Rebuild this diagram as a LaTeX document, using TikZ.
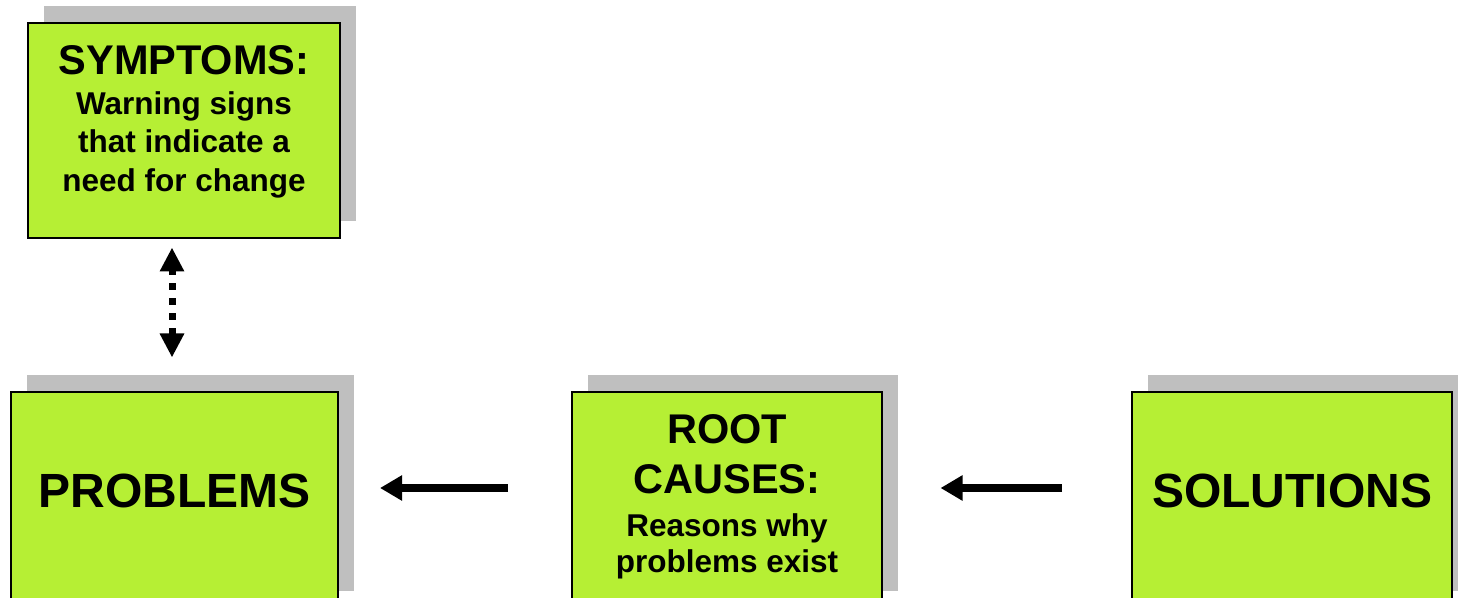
\documentclass[tikz,border=0pt]{standalone}
\usepackage{fontspec}
\setmainfont{Liberation Sans}
\usetikzlibrary{positioning, arrows.meta, shadows}
\definecolor{boxgreen}{RGB}{182,239,52}
\definecolor{shadowgray}{RGB}{191,191,191}
\newcommand{\boxtitle}[1]{{\fontsize{41.5}{42}\selectfont #1}}
\tikzset{
    x=1pt, y=1pt, % one unit is one point
    node distance=154pt, % gap between the two rows of boxes
    box/.style={draw=black, line width=2pt, fill=boxgreen, outer sep=0pt, minimum height=215pt,
        general shadow={fill=shadowgray, shadow xshift=16pt, shadow yshift=17pt}}, % green box with its grey shadow
    boxtext/.style={inner sep=0pt, align=center, font=\bfseries\fontsize{31.5}{38.5}\selectfont}, % text of a box
    bigtext/.style={inner sep=0pt, font=\bfseries\fontsize{48}{56}\selectfont}, % one big word
    flow/.style={line width=8pt, -{Triangle[length=22pt, width=24pt]}}, % thick arrow between boxes
    link/.style={line width=7pt, dash pattern=on 7pt off 8pt,
        {Triangle[length=24pt, width=23pt]}-{Triangle[length=24pt, width=23pt]}}, % dotted two way arrow
}
\begin{document}
\begin{tikzpicture}
        \useasboundingbox (0,0) rectangle (1458,597);
        \node[box, minimum width=327pt] (prob) at (174.5,97) {};
        \node[box, minimum width=310pt, right=234pt of prob] (root) {};
        \node[box, minimum width=320pt, right=250pt of root] (solu) {};
        \node[box, minimum width=312pt, above=of prob, xshift=9.5pt] (symp) {};
        \node[boxtext, anchor=north] (symptext) at ([yshift=-21.5pt]symp.north)
            {\boxtitle{SYMPTOMS:}\\[1.5pt]Warning signs\\that indicate a\\need for change};
        \node[bigtext, anchor=base] (probtext) at ([yshift=-7pt]prob.center) {PROBLEMS};
        \node[boxtext, anchor=north] (roottext) at ([yshift=-22pt]root.north)
            {\boxtitle{ROOT}\\[11.5pt]\boxtitle{CAUSES:}\\[4.5pt]Reasons why\\[-2.5pt]problems exist};
        \node[bigtext, anchor=base] (solutext) at ([yshift=-7pt]solu.center) {SOLUTIONS};
        \draw[flow, shorten <=64pt, shorten >=42pt] ([yshift=12pt]root.west) -- ([yshift=12pt]prob.east);
        \draw[flow, shorten <=70pt, shorten >=58.5pt] ([yshift=12pt]solu.west) -- ([yshift=12pt]root.east);
        \draw[link, shorten <=35pt, shorten >=9pt] ([xshift=-2.5pt]prob.north) -- ([xshift=-2.5pt]prob.north |- symp.south);
    \end{tikzpicture}
\end{document}
